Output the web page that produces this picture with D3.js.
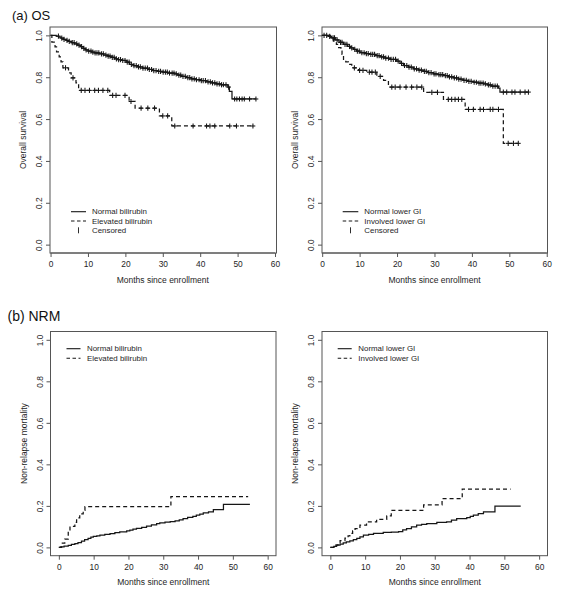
<!DOCTYPE html>
<html><head><meta charset="utf-8">
<script src="https://cdn.jsdelivr.net/npm/d3@7"></script>
<style>
body{margin:0;background:#fff}
svg{display:block}
text{font-family:"Liberation Sans",Arial,Helvetica,sans-serif}
</style>
</head><body>
<svg id="c" width="563" height="599"></svg>
<script>
// ---------------- DATA ----------------
const xTickValues = [0, 10, 20, 30, 40, 50, 60];
const yTickValues = [0, 0.2, 0.4, 0.6, 0.8, 1.0];
const panelTitles = ["(a) OS", "(b) NRM"];
const xAxisLabel = "Months since enrollment";
const osYLabel = "Overall survival";
const nrmYLabel = "Non-relapse mortality";
const biliLabels = ["Normal bilirubin", "Elevated bilirubin"];
const giLabels = ["Normal lower GI", "Involved lower GI"];
const censorLabel = "Censored";

// OS by bilirubin: [month, survival]
const osNormalBiliSteps = [[1.5,0.996],[2.2,0.992],[2.8,0.987],[3.5,0.981],[4.2,0.976],[4.8,0.971],[5.6,0.965],[6.4,0.959],[7.2,0.953],[8.0,0.946],[8.7,0.938],[9.3,0.931],[10.0,0.925],[11.0,0.920],[11.8,0.916],[13.0,0.912],[14.2,0.906],[15.3,0.901],[16.2,0.895],[17.1,0.888],[18.0,0.884],[18.9,0.880],[20.2,0.872],[21.1,0.861],[22.2,0.855],[23.3,0.849],[24.6,0.843],[26.0,0.837],[27.4,0.832],[28.7,0.828],[30.0,0.824],[31.3,0.820],[33.1,0.816],[34.0,0.810],[34.9,0.804],[36.2,0.798],[37.6,0.792],[38.9,0.788],[40.2,0.784],[41.5,0.778],[42.9,0.773],[44.2,0.768],[45.6,0.764],[47.4,0.753],[47.8,0.732],[48.5,0.696]];
const osNormalBiliEnd = 54.9;
const osNormalBiliCensor = [2.1,3.0,3.6,4.4,5.0,5.8,6.3,7.0,7.6,8.3,8.9,9.5,10.2,10.8,11.3,11.9,12.4,12.9,13.6,14.1,14.8,15.4,15.9,16.5,17.0,17.6,18.2,18.7,19.3,19.9,20.5,21.0,21.6,22.3,22.9,23.5,24.0,24.7,25.3,25.9,26.4,27.0,27.6,28.2,28.9,29.4,30.1,30.7,31.2,31.8,32.5,33.0,33.6,34.3,34.8,35.4,36.0,36.7,37.2,37.8,38.4,39.0,39.7,40.3,40.8,41.4,42.1,42.7,43.3,43.9,44.5,45.1,45.7,46.2,46.9,47.6,49.2,49.8,50.5,51.2,51.8,53.2,54.9];
const osElevBiliSteps = [[0.35,0.968],[1.2,0.945],[1.6,0.921],[2.3,0.897],[2.8,0.873],[3.3,0.845],[4.8,0.821],[5.5,0.797],[6.8,0.773],[7.5,0.737],[15.8,0.713],[21.0,0.684],[22.6,0.652],[29.1,0.615],[32.4,0.567]];
const osElevBiliEnd = 54.1;
const osElevBiliCensor = [4.0,6.0,8.2,9.2,10.4,11.8,12.8,14.0,15.3,16.6,17.5,19.9,21.5,24.2,26.0,27.8,30.0,31.3,33.2,38.1,41.7,42.6,43.9,47.9,49.7,54.1];

// OS by lower GI
const osNormalGiSteps = [[1.7,0.995],[2.5,0.988],[3.5,0.978],[4.5,0.967],[5.7,0.957],[6.8,0.947],[7.6,0.940],[8.4,0.933],[9.2,0.925],[10.1,0.917],[11.5,0.913],[12.8,0.909],[14.2,0.903],[15.5,0.897],[16.8,0.891],[18.2,0.885],[19.9,0.877],[20.8,0.866],[21.7,0.856],[23.0,0.848],[24.4,0.840],[25.7,0.834],[27.0,0.828],[28.3,0.822],[29.7,0.816],[31.0,0.812],[32.4,0.808],[33.7,0.802],[35.1,0.797],[36.4,0.791],[37.7,0.785],[39.0,0.780],[40.4,0.776],[41.7,0.772],[43.1,0.768],[44.2,0.763],[45.3,0.757],[47.1,0.748],[47.5,0.729]];
const osNormalGiEnd = 55.1;
const osNormalGiCensor = [0.5,1.2,2.0,2.9,3.3,4.0,4.9,5.3,6.1,6.6,7.3,7.9,8.7,9.4,9.9,10.6,11.2,11.8,12.3,13.0,13.5,14.0,14.7,15.2,15.9,16.4,17.0,17.7,18.4,19.0,19.6,20.3,21.2,22.0,22.6,23.2,23.8,24.6,25.2,25.9,26.5,27.3,27.8,28.5,29.1,29.9,30.4,31.2,31.7,32.2,32.9,33.4,34.0,34.6,35.3,35.9,36.5,37.1,37.9,38.5,39.2,39.8,40.6,41.2,41.9,42.4,43.0,43.6,44.4,44.9,45.6,46.2,46.8,48.4,49.3,50.7,51.5,52.9,54.2,55.1];
const osInvGiSteps = [[2.2,0.986],[3.0,0.973],[3.8,0.957],[4.4,0.941],[5.0,0.925],[5.3,0.909],[5.7,0.885],[6.3,0.873],[7.0,0.861],[7.9,0.845],[9.7,0.833],[11.9,0.824],[14.6,0.804],[16.4,0.785],[17.7,0.753],[27.1,0.728],[32.4,0.694],[38.2,0.646],[48.4,0.484]];
const osInvGiEnd = 52.4;
const osInvGiCensor = [8.6,10.0,10.9,12.6,13.3,14.2,15.5,18.6,19.5,20.8,22.4,23.9,25.3,26.6,29.3,30.8,33.7,34.6,35.5,36.4,37.3,39.1,40.4,42.2,43.1,44.9,45.6,47.1,49.7,51.1,52.4];

// NRM (cumulative incidence): [month, incidence]
const nrmNormalBiliSteps = [[0.5,0.003],[1.5,0.006],[2.7,0.010],[3.6,0.014],[4.6,0.018],[5.5,0.023],[6.5,0.030],[7.4,0.037],[8.4,0.044],[9.2,0.049],[9.9,0.053],[10.9,0.056],[11.8,0.059],[13.2,0.063],[14.7,0.066],[16.1,0.071],[17.5,0.075],[19.5,0.079],[20.4,0.083],[21.3,0.088],[22.3,0.092],[23.8,0.097],[25.2,0.102],[26.6,0.108],[28.1,0.114],[29.0,0.118],[30.5,0.122],[32.0,0.124],[33.4,0.128],[34.6,0.133],[35.7,0.139],[37.0,0.145],[38.5,0.150],[39.5,0.155],[40.5,0.160],[41.5,0.166],[43.0,0.171],[44.4,0.182],[47.3,0.207]];
const nrmNormalBiliEnd = 54.9;
const nrmElevBiliSteps = [[0.8,0.020],[1.7,0.040],[2.7,0.081],[3.2,0.101],[4.6,0.121],[5.1,0.142],[6.0,0.162],[7.0,0.178],[7.5,0.196],[32.2,0.245]];
const nrmElevBiliEnd = 54.4;
const nrmNormalGiSteps = [[1.0,0.005],[1.8,0.011],[2.8,0.016],[3.7,0.022],[4.6,0.027],[5.6,0.032],[6.6,0.038],[7.6,0.043],[8.5,0.051],[9.5,0.059],[11.0,0.063],[12.4,0.067],[15.2,0.072],[17.5,0.074],[19.6,0.076],[20.8,0.084],[21.9,0.091],[23.3,0.099],[24.8,0.107],[26.2,0.111],[27.7,0.115],[30.6,0.120],[33.4,0.123],[34.8,0.131],[36.3,0.139],[39.2,0.144],[40.2,0.150],[41.1,0.155],[42.5,0.163],[44.0,0.171],[47.3,0.199]];
const nrmNormalGiEnd = 54.7;
const nrmInvGiSteps = [[1.3,0.011],[2.2,0.022],[2.8,0.033],[4.2,0.045],[5.1,0.056],[5.6,0.067],[6.4,0.079],[7.1,0.090],[8.5,0.107],[10.4,0.123],[13.3,0.135],[16.2,0.152],[17.5,0.178],[26.8,0.205],[32.1,0.235],[37.9,0.281]];
const nrmInvGiEnd = 51.8;

// ---------------- DRAW ----------------
const svg = d3.select("#c");
const INK = "#161616", BOX = "#555", TXT = "#1e1e1e";

function stepValue(start, steps, t) {
  let v = start;
  for (const [s, val] of steps) { if (s <= t) v = val; else break; }
  return v;
}

const panels = [
  {box:[50,27,276.5,253], xdom:[-0.15,60.4], ylab:osYLabel, start:1,
   series:[{steps:osNormalBiliSteps,end:osNormalBiliEnd,censor:osNormalBiliCensor,dash:null},
           {steps:osElevBiliSteps,end:osElevBiliEnd,censor:osElevBiliCensor,dash:"4,3"}],
   legend:{labels:biliLabels, censored:true, x0:21, x1:36, tx:42, y:[184.7,194,203.3]}},
  {box:[322,27,547.5,253], xdom:[-0.05,60.2], ylab:osYLabel, start:1,
   series:[{steps:osNormalGiSteps,end:osNormalGiEnd,censor:osNormalGiCensor,dash:null},
           {steps:osInvGiSteps,end:osInvGiEnd,censor:osInvGiCensor,dash:"4,3"}],
   legend:{labels:giLabels, censored:true, x0:20.7, x1:36.3, tx:42.3, y:[184.7,194,203.3]}},
  {box:[50.5,331.5,276,555.7], xdom:[-2.4,62.4], ylab:nrmYLabel, start:0,
   series:[{steps:nrmNormalBiliSteps,end:nrmNormalBiliEnd,censor:[],dash:null},
           {steps:nrmElevBiliSteps,end:nrmElevBiliEnd,censor:[],dash:"4,3"}],
   legend:{labels:biliLabels, censored:false, x0:16, x1:30, tx:36.5, y:[17.2,26.8]}},
  {box:[322,331.5,547.5,555.7], xdom:[-2.4,62.4], ylab:nrmYLabel, start:0,
   series:[{steps:nrmNormalGiSteps,end:nrmNormalGiEnd,censor:[],dash:null},
           {steps:nrmInvGiSteps,end:nrmInvGiEnd,censor:[],dash:"4,3"}],
   legend:{labels:giLabels, censored:false, x0:15.7, x1:29.7, tx:36.3, y:[17.2,26.8]}}
];

// panel titles
svg.append("text").attr("x",12).attr("y",20).attr("font-size",13).attr("fill","#111").text(panelTitles[0]);
svg.append("text").attr("x",7.5).attr("y",320.5).attr("font-size",14).attr("fill","#111").text(panelTitles[1]);

panels.forEach(p => {
  const [L,T,R,B] = p.box;
  const x = d3.scaleLinear().domain(p.xdom).range([L,R]);
  const y = d3.scaleLinear().domain([-0.04,1.04]).range([B,T]);
  const g = svg.append("g");

  // x axis
  const xa = g.append("g").attr("transform",`translate(0,${B})`)
    .call(d3.axisBottom(x).tickValues(xTickValues).tickSize(4).tickPadding(4).tickFormat(d3.format("d")));
  xa.select(".domain").remove();
  xa.selectAll("line").attr("stroke",BOX);
  xa.selectAll("text").attr("font-size",8.4).attr("fill",TXT).attr("font-family",null);
  g.append("line").attr("x1",x(0)).attr("x2",x(60)).attr("y1",B).attr("y2",B).attr("stroke",BOX);

  // y axis
  const ya = g.append("g").attr("transform",`translate(${L},0)`)
    .call(d3.axisLeft(y).tickValues(yTickValues).tickSize(4).tickFormat(d3.format(".1f")));
  ya.select(".domain").remove();
  ya.selectAll("line").attr("stroke",BOX);
  ya.selectAll("text").attr("font-size",8.4).attr("fill",TXT).attr("font-family",null)
    .attr("x",0).attr("dy",null).attr("y",-8).attr("transform","rotate(-90)").attr("text-anchor","middle");

  // box
  g.append("rect").attr("x",L).attr("y",T).attr("width",R-L).attr("height",B-T)
    .attr("fill","none").attr("stroke",BOX).attr("stroke-width",1);

  // axis titles
  g.append("text").attr("x",(x(0)+x(60))/2).attr("y",B+29.5).attr("text-anchor","middle")
    .attr("font-size",8.5).attr("fill",TXT).text(xAxisLabel);
  g.append("text").attr("transform",`translate(${L-24},${(T+B)/2}) rotate(-90)`).attr("text-anchor","middle")
    .attr("font-size",8.5).attr("fill",TXT).text(p.ylab);

  // curves
  const line = d3.line().x(d=>x(d[0])).y(d=>y(d[1])).curve(d3.curveStepAfter);
  p.series.forEach(s => {
    const last = s.steps[s.steps.length-1][1];
    const pts = [[0,p.start], ...s.steps, [s.end,last]];
    g.append("path").attr("d",line(pts)).attr("fill","none").attr("stroke",INK)
      .attr("stroke-width",1.25).attr("stroke-dasharray",s.dash);
    const cg = g.append("g").attr("stroke",INK).attr("stroke-width",1.05);
    s.censor.forEach(t => {
      const cx = x(t), cy = y(stepValue(p.start,s.steps,t));
      cg.append("line").attr("x1",cx-2.4).attr("x2",cx+2.4).attr("y1",cy).attr("y2",cy);
      cg.append("line").attr("x1",cx).attr("x2",cx).attr("y1",cy-2.6).attr("y2",cy+2.6);
    });
  });

  // legend
  const lg = p.legend;
  lg.labels.forEach((lab,i) => {
    g.append("line").attr("x1",L+lg.x0).attr("x2",L+lg.x1).attr("y1",T+lg.y[i]).attr("y2",T+lg.y[i])
      .attr("stroke",INK).attr("stroke-width",1.1).attr("stroke-dasharray",i===1?"3.5,2.5":null);
    g.append("text").attr("x",L+lg.tx).attr("y",T+lg.y[i]).attr("dy","0.35em")
      .attr("font-size",7.9).attr("fill",TXT).text(lab);
  });
  if (lg.censored) {
    const cy = T+lg.y[2], cx = L+(lg.x0+lg.x1)/2;
    g.append("line").attr("x1",cx).attr("x2",cx).attr("y1",cy-3).attr("y2",cy+3).attr("stroke",INK).attr("stroke-width",0.9);
    g.append("text").attr("x",L+lg.tx).attr("y",cy).attr("dy","0.35em")
      .attr("font-size",7.9).attr("fill",TXT).text(censorLabel);
  }
});
</script>
</body></html>
